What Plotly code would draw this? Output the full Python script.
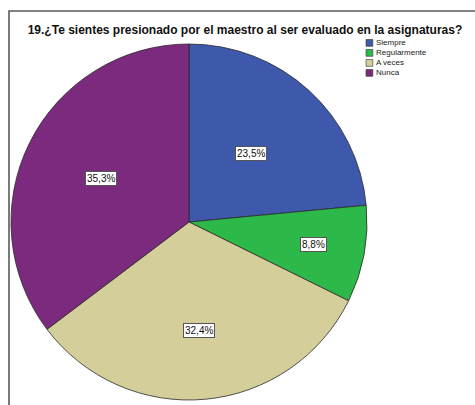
import math
import plotly.graph_objects as go

# ---- data ----
categories = ["Siempre", "Regularmente", "A veces", "Nunca"]
percent = [23.5, 8.8, 32.4, 35.3]
label_text = ["23,5%", "8,8%", "32,4%", "35,3%"]
title_text = "19.¿Te sientes presionado por el maestro al ser evaluado en la asignaturas?"

# ---- styles / layout ----
colors = ["#3E58AC", "#2DB84A", "#D4CF9A", "#7B2A7D"]
W, H = 475, 405
CX, CY, R = 189, 222, 178          # pie centre / radius in px
label_r = [0.52, 0.71, 0.61, 0.55]  # label distance as fraction of radius
FONT = "Liberation Sans, Arial, sans-serif"

fig = go.Figure()
fig.add_trace(go.Pie(
    labels=categories,
    values=percent,
    sort=False,
    direction="clockwise",
    rotation=0,
    marker=dict(colors=colors, line=dict(color="#2a2a2a", width=0.8)),
    textinfo="none",
    hoverinfo="label+percent",
    showlegend=False,
    domain=dict(x=[(CX - R) / W, (CX + R) / W],
                y=[1 - (CY + R) / H, 1 - (CY - R) / H]),
))

# slice labels (boxed), positioned from cumulative data angles
total = sum(percent)
cum = 0.0
annotations = []
for v, t, fr in zip(percent, label_text, label_r):
    mid = (cum + v / 2) / total * 2 * math.pi
    cum += v
    px = CX + fr * R * math.sin(mid)
    py = CY - fr * R * math.cos(mid)
    annotations.append(dict(
        x=px / W, y=1 - py / H, xref="paper", yref="paper",
        xanchor="center", yanchor="middle",
        text=t, showarrow=False,
        font=dict(family=FONT, size=10, color="#111"),
        bgcolor="white", bordercolor="#555", borderwidth=1, borderpad=1,
    ))

# legend drawn as swatches + text
shapes = []
leg_x, leg_y0, leg_step, sw = 366, 39.5, 10, 6.8
for i, (c, name) in enumerate(zip(colors, categories)):
    y = leg_y0 + i * leg_step
    shapes.append(dict(type="rect", xref="paper", yref="paper",
                       x0=leg_x / W, x1=(leg_x + sw) / W,
                       y0=1 - (y + sw) / H, y1=1 - y / H,
                       fillcolor=c, line=dict(color="#333", width=0.6)))
    annotations.append(dict(
        x=(leg_x + sw + 1.5) / W, y=1 - (y + sw / 2) / H,
        xref="paper", yref="paper", xanchor="left", yanchor="middle",
        text=name, showarrow=False,
        font=dict(family=FONT, size=8, color="#222"),
    ))

# outer frame
shapes.append(dict(type="rect", xref="paper", yref="paper",
                   x0=9 / W, x1=1.05, y0=-0.05, y1=1 - 11 / H,
                   line=dict(color="#5a5a5a", width=1.6), layer="below"))

fig.update_layout(
    width=W, height=H,
    margin=dict(l=0, r=0, t=0, b=0),
    paper_bgcolor="white", plot_bgcolor="white",
    title=dict(text="<b>" + title_text + "</b>", x=245 / W, xanchor="center",
               y=1 - 30 / H, yanchor="middle",
               font=dict(family=FONT, size=12, color="#111")),
    annotations=annotations,
    shapes=shapes,
)

fig.write_html(
    "out.html",
    config={"displayModeBar": False},
    post_script="document.body.style.margin='0';document.body.style.overflow='hidden';",
)
